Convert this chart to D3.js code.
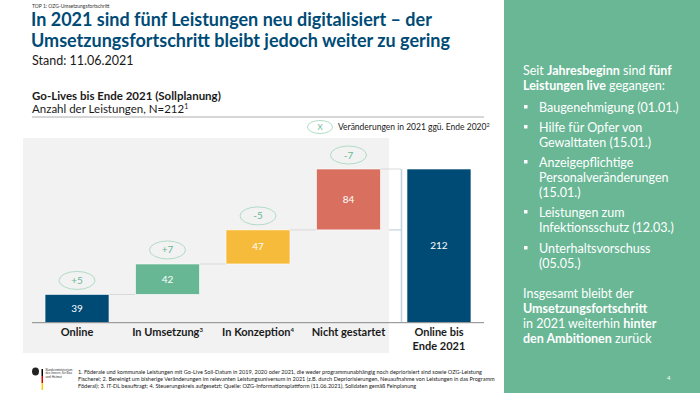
<!DOCTYPE html>
<html>
<head>
<meta charset="utf-8">
<script src="https://cdn.jsdelivr.net/npm/d3@7"></script>
<style>
  body { margin: 0; background: #fff; }
  svg { display: block; }
  text { font-family: Lato, "Open Sans", sans-serif; }
</style>
</head>
<body>
<svg id="chart" width="700" height="393"></svg>
<script>
// chart data
const categories = ["Online", "In Umsetzung", "In Konzeption", "Nicht gestartet", "Online bis Ende 2021"];
const values = [39, 42, 47, 84, 212];
const changes = ["+5", "+7", "-5", "-7", null];
const categorySup = ["", "3", "4", "", ""];

// colours
const blue = "#004b76", green = "#67b795", yellow = "#f7bb3c", red = "#d9705f";
const barColors = [blue, green, yellow, red, blue];

const svg = d3.select("#chart");

// top header
svg.append("text").attr("x", 32).attr("y", 8).text("TOP 1: OZG-Umsetzungsfortschritt")
    .style("font-size", "5px").style("fill", "#333");

const title = ["In 2021 sind fünf Leistungen neu digitalisiert – der",
    "Umsetzungsfortschritt bleibt jedoch weiter zu gering"];
title.forEach((t, i) => {
    svg.append("text").attr("x", 31).attr("y", 26 + i * 21).text(t)
        .style("font-size", "18px").style("font-weight", "bold").style("fill", blue);
});
svg.append("text").attr("x", 32).attr("y", 65).text("Stand: 11.06.2021")
    .style("font-size", "12.5px").style("fill", "#1a1a1a");

// chart heading
svg.append("text").attr("x", 32).attr("y", 100).text("Go-Lives bis Ende 2021 (Sollplanung)")
    .style("font-size", "11.5px").style("font-weight", "bold").style("fill", "#1a1a1a");
const sub = svg.append("text").attr("x", 32).attr("y", 113)
    .style("font-size", "11.5px").style("fill", "#1a1a1a");
sub.append("tspan").text("Anzahl der Leistungen, N=212");
sub.append("tspan").attr("dy", -4).style("font-size", "7px").text("1");
svg.append("line").attr("x1", 32).attr("x2", 484).attr("y1", 117).attr("y2", 117)
    .style("stroke", "#999").style("stroke-width", 0.8);

// legend
svg.append("ellipse").attr("cx", 320).attr("cy", 127).attr("rx", 12.5).attr("ry", 6.5)
    .style("fill", "none").style("stroke", "#a9d8c2").style("stroke-width", 0.9);
svg.append("text").attr("x", 320).attr("y", 130).attr("text-anchor", "middle").text("X")
    .style("font-size", "8px").style("fill", green);
const leg = svg.append("text").attr("x", 338).attr("y", 130)
    .style("font-size", "8.5px").style("fill", "#1a1a1a");
leg.append("tspan").text("Veränderungen in 2021 ggü. Ende 2020");
leg.append("tspan").attr("dy", -3).style("font-size", "5.5px").text("2");

// grey panel behind the flow bars
svg.append("rect").attr("x", 23).attr("y", 138).attr("width", 366).attr("height", 215)
    .style("fill", "#f2f2f2");

// scales
const x = d3.scaleBand().domain(categories).range([32, 484])
    .paddingInner(0.293).paddingOuter(0.144);
const y = d3.scaleLinear().domain([0, 212]).range([322.7, 169]);

// waterfall starts
let acc = 0;
const bars = categories.map((c, i) => {
    let start = acc, end = acc + values[i];
    if (i === categories.length - 1) { start = 0; end = values[i]; }
    else acc = end;
    return { cat: c, value: values[i], start: start, end: end, change: changes[i], color: barColors[i] };
});

// connectors
bars.slice(0, bars.length - 1).forEach((d, i) => {
    const next = bars[i + 1];
    const x2 = i === bars.length - 2 ? x(next.cat) - 6 : x(next.cat);
    svg.append("line")
        .attr("x1", x(d.cat) + x.bandwidth()).attr("x2", x2)
        .attr("y1", y(d.end)).attr("y2", y(d.end))
        .style("stroke", "#d9d9d9").style("stroke-width", 1);
});

// bracket to the total bar
const last = bars[bars.length - 1];
const bx = x(last.cat) - 5.5;
svg.append("line").attr("x1", bx).attr("x2", bx).attr("y1", y(last.end)).attr("y2", y(0))
    .style("stroke", "#c3d3df").style("stroke-width", 1.6);
svg.append("line").attr("x1", 389).attr("x2", bx).attr("y1", y(last.end / 2 + 22)).attr("y2", y(last.end / 2 + 22))
    .style("stroke", "#c3d3df").style("stroke-width", 1.2);

// bars
svg.selectAll("rect.bar").data(bars).enter().append("rect")
    .attr("class", "bar")
    .attr("x", d => x(d.cat))
    .attr("y", d => y(d.end))
    .attr("width", x.bandwidth())
    .attr("height", d => y(d.start) - y(d.end))
    .style("fill", d => d.color)
    .style("stroke", "#fff").style("stroke-width", 0.6);

svg.selectAll("text.val").data(bars).enter().append("text")
    .attr("class", "val")
    .attr("x", d => x(d.cat) + x.bandwidth() / 2)
    .attr("y", d => (y(d.start) + y(d.end)) / 2 + 3.5)
    .attr("text-anchor", "middle")
    .text(d => d.value)
    .style("font-size", "10px").style("fill", "#fff");

// change bubbles
const ch = bars.filter(d => d.change);
svg.selectAll("ellipse.chg").data(ch).enter().append("ellipse")
    .attr("class", "chg")
    .attr("cx", d => x(d.cat) + x.bandwidth() / 2)
    .attr("cy", d => y(d.end) - 14)
    .attr("rx", 18).attr("ry", 9)
    .style("fill", "none").style("stroke", "#a9d8c2").style("stroke-width", 0.9);
svg.selectAll("text.chg").data(ch).enter().append("text")
    .attr("class", "chg")
    .attr("x", d => x(d.cat) + x.bandwidth() / 2)
    .attr("y", d => y(d.end) - 10.5)
    .attr("text-anchor", "middle")
    .text(d => d.change)
    .style("font-size", "10px").style("fill", green);

// axis baseline
svg.append("line").attr("x1", 32).attr("x2", 484).attr("y1", y(0)).attr("y2", y(0))
    .style("stroke", "#888").style("stroke-width", 1);

// category labels
categories.forEach((c, i) => {
    const cx = x(c) + x.bandwidth() / 2;
    const t = svg.append("text").attr("x", cx).attr("y", 336).attr("text-anchor", "middle")
        .style("font-size", "11px").style("font-weight", "bold").style("fill", "#1a1a1a");
    if (c === "Online bis Ende 2021") {
        t.append("tspan").attr("x", cx).text("Online bis");
        t.append("tspan").attr("x", cx).attr("dy", 13.5).text("Ende 2021");
    } else {
        t.append("tspan").text(c);
        if (categorySup[i]) t.append("tspan").attr("dy", -4).style("font-size", "6px").text(categorySup[i]);
    }
});

// right side panel
svg.append("rect").attr("x", 504).attr("y", 0).attr("width", 196).attr("height", 393).style("fill", "#69b795");

const panelLines = [
    { x: 523, y: 75, parts: [["Seit ", 0], ["Jahresbeginn", 1], [" sind ", 0], ["fünf", 1]] },
    { x: 523, y: 90, parts: [["Leistungen live", 1], [" gegangen:", 0]] },
    { x: 539, y: 112, bullet: true, parts: [["Baugenehmigung (01.01.)", 0]] },
    { x: 539, y: 132, bullet: true, parts: [["Hilfe für Opfer von", 0]] },
    { x: 539, y: 147, parts: [["Gewalttaten (15.01.)", 0]] },
    { x: 539, y: 167, bullet: true, parts: [["Anzeigepflichtige", 0]] },
    { x: 539, y: 182, parts: [["Personalveränderungen", 0]] },
    { x: 539, y: 197, parts: [["(15.01.)", 0]] },
    { x: 539, y: 217, bullet: true, parts: [["Leistungen zum", 0]] },
    { x: 539, y: 232, parts: [["Infektionsschutz (12.03.)", 0]] },
    { x: 539, y: 253, bullet: true, parts: [["Unterhaltsvorschuss", 0]] },
    { x: 539, y: 268, parts: [["(05.05.)", 0]] },
    { x: 523, y: 298, parts: [["Insgesamt bleibt der", 0]] },
    { x: 523, y: 313, parts: [["Umsetzungsfortschritt", 1]] },
    { x: 523, y: 328, parts: [["in 2021 weiterhin ", 0], ["hinter", 1]] },
    { x: 523, y: 343, parts: [["den Ambitionen", 1], [" zurück", 0]] }
];
panelLines.forEach(l => {
    const t = svg.append("text").attr("x", l.x).attr("y", l.y)
        .style("font-size", "12.5px").style("fill", "#fff").style("white-space", "pre");
    l.parts.forEach(p => {
        t.append("tspan").text(p[0]).style("font-weight", p[1] ? "bold" : "normal");
    });
    if (l.bullet) {
        svg.append("rect").attr("x", 524).attr("y", l.y - 7).attr("width", 3.5).attr("height", 3.5)
            .style("fill", "#fff");
    }
});
svg.append("text").attr("x", 667).attr("y", 380).text("4").style("font-size", "6px").style("fill", "#fff");

// footer: logo
svg.append("ellipse").attr("cx", 35.5).attr("cy", 371.5).attr("rx", 3.5).attr("ry", 4).style("fill", "#222");
[["#000", 369], ["#dd0000", 376], ["#ffcc00", 383]].forEach(s => {
    svg.append("rect").attr("x", 41.5).attr("y", s[1]).attr("width", 1.5).attr("height", 7).style("fill", s[0]);
});
["Bundesministerium", "des Innern, für Bau", "und Heimat"].forEach((t, i) => {
    svg.append("text").attr("x", 45.5).attr("y", 371 + i * 3.4).text(t)
        .style("font-size", "3.2px").style("fill", "#333");
});

// footer: footnotes
const notes = [
    "1. Föderale und kommunale Leistungen mit Go-Live Soll-Datum in 2019, 2020 oder 2021, die weder programmunabhängig noch depriorisiert sind sowie OZG-Leistung",
    "Fischerei; 2. Bereinigt um bisherige Veränderungen im relevanten Leistungsuniversum in 2021 (z.B. durch Depriorisierungen, Neuaufnahme von Leistungen in das Programm",
    "Föderal); 3. IT-DL beauftragt; 4. Steuerungskreis aufgesetzt; Quelle: OZG-Informationsplattform (11.06.2021), Solldaten gemäß Feinplanung"
];
notes.forEach((n, i) => {
    svg.append("text").attr("x", 78).attr("y", 374 + i * 6.8).text(n)
        .style("font-size", "5.55px").style("fill", "#1a1a1a");
});
</script>
</body>
</html>
